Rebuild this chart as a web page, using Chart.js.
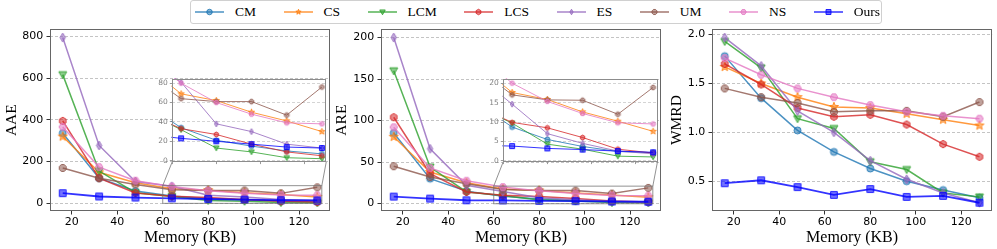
<!DOCTYPE html>
<html><head><meta charset="utf-8">
<script src="https://cdn.jsdelivr.net/npm/chart.js@4.4.1/dist/chart.umd.min.js"></script>
<style>
html,body{margin:0;padding:0;background:#fff;width:997px;height:249px;overflow:hidden;position:relative}
canvas.plot{position:absolute;left:0;top:0}
#legend{position:absolute;left:190px;top:0;width:686px;height:22px;padding-left:4px;border:1px solid #d0d0d0;border-radius:3px;background:#fff;display:flex;align-items:center;gap:27.5px;font-family:'Liberation Serif',serif;font-size:13.5px;color:#000;white-space:nowrap}
#legend .item{display:flex;align-items:center}
#legend .item canvas{display:block;margin-right:11px}
</style></head><body>
<canvas class="plot" id="c1" width="997" height="249"></canvas>
<canvas class="plot" id="c2" width="997" height="249"></canvas>
<canvas class="plot" id="c3" width="997" height="249"></canvas>
<canvas class="plot" id="i1" width="997" height="249"></canvas>
<canvas class="plot" id="i2" width="997" height="249"></canvas>
<div id="legend"></div>
<script>
// ---------------- data ----------------
const memory = [16, 32, 48, 64, 80, 96, 112, 128];
const methodNames = ['CM', 'CS', 'LCM', 'LCS', 'ES', 'UM', 'NS', 'Ours'];

const aaeCM   = [336, 120, 58, 34, 21, 15, 10, 7];
const aaeCS   = [320, 148, 98, 69, 62, 50, 41, 30];
const aaeLCM  = [617, 154, 50, 32, 13, 9, 3, 2];
const aaeLCS  = [395, 120, 49, 33, 27, 17, 9, 5];
const aaeES   = [795, 277, 104, 81, 38, 30, 17, 13];
const aaeUM   = [169, 120, 90, 64, 61, 61, 47, 76];
const aaeNS   = [366, 173, 108, 80, 60, 48, 39, 38];
const aaeOurs = [48, 32, 27, 23, 20, 17, 14, 13];

const areCM   = [85, 30, 15, 8.7, 5.5, 3.7, 2.4, 2.1];
const areCS   = [80.5, 38, 25, 17.6, 15.8, 12.6, 10.2, 7.6];
const areLCM  = [160, 44, 14, 9.7, 4.3, 3.0, 1.2, 1.0];
const areLCS  = [104, 36, 14, 9.9, 8.5, 6.0, 3.0, 2.0];
const areES   = [200, 66, 22, 14.6, 7.0, 4.5, 2.5, 1.8];
const areUM   = [45, 32, 24, 17, 15.7, 15.6, 12, 18.9];
const areNS   = [92, 43, 27.5, 20, 15.3, 12.2, 9.8, 9.5];
const areOurs = [8.4, 6, 4, 3.8, 3.2, 2.9, 2.5, 2.2];

const wmrdCM   = [1.78, 1.35, 1.02, 0.80, 0.63, 0.50, 0.41, 0.33];
const wmrdCS   = [1.67, 1.50, 1.36, 1.26, 1.25, 1.19, 1.13, 1.07];
const wmrdLCM  = [1.93, 1.66, 1.14, 1.04, 0.70, 0.62, 0.38, 0.34];
const wmrdLCS  = [1.70, 1.49, 1.25, 1.16, 1.18, 1.08, 0.88, 0.75];
const wmrdES   = [1.97, 1.68, 1.22, 1.00, 0.71, 0.52, 0.38, 0.28];
const wmrdUM   = [1.45, 1.36, 1.30, 1.21, 1.22, 1.22, 1.16, 1.31];
const wmrdNS   = [1.76, 1.59, 1.45, 1.36, 1.28, 1.21, 1.17, 1.14];
const wmrdOurs = [0.48, 0.51, 0.44, 0.36, 0.42, 0.34, 0.35, 0.28];

const xTickValues = [20, 40, 60, 80, 100, 120];
const aaeTickValues = [0, 200, 400, 600, 800];
const areTickValues = [0, 50, 100, 150, 200];
const wmrdTickValues = [0.5, 1.0, 1.5, 2.0];
const wmrdTickLabels = ['0.5', '1.0', '1.5', '2.0'];
const aaeInsetTickValues = [0, 20, 40, 60, 80];
const areInsetTickValues = [0, 5, 10, 15, 20];
const insetXTickValues = [60, 80, 100, 120];
const insetXRange = [60, 130];
const aaeInsetYRange = [-1, 84];
const areInsetYRange = [-0.2, 21];

// ---------------- styles ----------------
const colors = ['#1f77b4', '#ff7f0e', '#2ca02c', '#d62728', '#9467bd', '#8c564b', '#e377c2', '#0000ff'];
const shapes = ['o', '*', 'v', 'h', 'd', '8', 'H', 's'];
const mainSizes = [7, 9.5, 8, 7.5, 9, 7.5, 7.5, 7.5];
const insetSizes = [5, 6.5, 5.5, 5, 6, 5, 5, 5.5];

function rgba(hex, a) {
  const n = parseInt(hex.slice(1), 16);
  return `rgba(${(n >> 16) & 255},${(n >> 8) & 255},${n & 255},${a})`;
}
function polyPath(ctx, cx, cy, r, n, start) {
  for (let k = 0; k < n; k++) {
    const a = start + k * 2 * Math.PI / n;
    const px = cx + r * Math.cos(a), py = cy + r * Math.sin(a);
    if (k === 0) ctx.moveTo(px, py); else ctx.lineTo(px, py);
  }
  ctx.closePath();
}
function shapePath(ctx, shape, cx, cy, r) {
  ctx.beginPath();
  if (shape === 'o') ctx.arc(cx, cy, r, 0, Math.PI * 2);
  else if (shape === 's') ctx.rect(cx - r * 0.9, cy - r * 0.9, r * 1.8, r * 1.8);
  else if (shape === 'v') { ctx.moveTo(cx - r, cy - r * 0.75); ctx.lineTo(cx + r, cy - r * 0.75); ctx.lineTo(cx, cy + r); ctx.closePath(); }
  else if (shape === 'd') { ctx.moveTo(cx, cy - r); ctx.lineTo(cx + r * 0.6, cy); ctx.lineTo(cx, cy + r); ctx.lineTo(cx - r * 0.6, cy); ctx.closePath(); }
  else if (shape === '*') {
    for (let k = 0; k < 10; k++) {
      const a = -Math.PI / 2 + k * Math.PI / 5;
      const rr = k % 2 ? r * 0.42 : r;
      const px = cx + rr * Math.cos(a), py = cy + rr * Math.sin(a);
      if (k === 0) ctx.moveTo(px, py); else ctx.lineTo(px, py);
    }
    ctx.closePath();
  }
  else if (shape === 'h') polyPath(ctx, cx, cy, r, 6, -Math.PI / 2);
  else if (shape === 'H') polyPath(ctx, cx, cy, r, 6, 0);
  else if (shape === '8') polyPath(ctx, cx, cy, r, 8, Math.PI / 8);
  else if (shape === 'p') polyPath(ctx, cx, cy, r, 5, -Math.PI / 2);
}
function paintMarker(c, i, size, withLine) {
  const ctx = c.getContext('2d');
  const cx = c.width / 2, cy = c.height / 2;
  if (withLine) {
    ctx.strokeStyle = rgba(colors[i], 0.8);
    ctx.lineWidth = 1.5;
    ctx.beginPath(); ctx.moveTo(0, cy); ctx.lineTo(c.width, cy); ctx.stroke();
  }
  shapePath(ctx, shapes[i], cx, cy, size / 2);
  ctx.fillStyle = rgba(colors[i], 0.55);
  ctx.fill();
  ctx.strokeStyle = rgba(colors[i], 0.85);
  ctx.lineWidth = 1;
  ctx.stroke();
  return c;
}
function markerImage(i, size) {
  const c = document.createElement('canvas');
  c.width = c.height = Math.ceil(size + 4);
  return paintMarker(c, i, size, false);
}
const mainMarkers = colors.map((c, i) => markerImage(i, mainSizes[i]));
const insetMarkers = colors.map((c, i) => markerImage(i, insetSizes[i]));

Chart.defaults.font.family = "'DejaVu Sans', sans-serif";
Chart.defaults.color = '#000';

function padRange(arrays) {
  const all = [].concat(...arrays);
  const lo = Math.min(...all), hi = Math.max(...all);
  const m = (hi - lo) * 0.05;
  return [lo - m, hi + m];
}
const xRange = padRange([memory]);

function makeDatasets(valueArrays, markers, inset) {
  return valueArrays.map((vals, i) => ({
    label: methodNames[i],
    data: memory.map((m, j) => ({ x: m, y: vals[j] })),
    borderColor: rgba(colors[i], 0.8),
    backgroundColor: rgba(colors[i], 0.5),
    borderWidth: inset ? 1 : (i === 7 ? 1.8 : 1.5),
    pointStyle: markers[i],
    pointRadius: 3,
    pointHoverRadius: 3,
    tension: 0,
    fill: false,
    clip: inset ? 1 : 6,
    order: valueArrays.length - i
  }));
}

const framePlugin = {
  id: 'frame',
  beforeDraw(chart, args, o) {
    if (!o.fill) return;
    const { ctx, chartArea: c } = chart;
    ctx.save();
    ctx.fillStyle = o.fill;
    ctx.fillRect(c.left, c.top, c.right - c.left, c.bottom - c.top);
    ctx.restore();
  },
  afterDraw(chart, args, o) {
    const { ctx, chartArea: c } = chart;
    const l = Math.round(c.left) + 0.5, t = Math.round(c.top) + 0.5;
    const r = Math.round(c.right) - 0.5, b = Math.round(c.bottom) - 0.5;
    ctx.save();
    ctx.strokeStyle = o.color;
    ctx.lineWidth = 1;
    ctx.strokeRect(l, t, r - l, b - t);
    ctx.restore();
  }
};

const insetCharts = {};
const insetMarkPlugin = {
  id: 'insetMark',
  afterDatasetsDraw(chart, args, o) {
    if (!o.target) return;
    const ins = insetCharts[o.target];
    if (!ins) return;
    const xs = chart.scales.x, ys = chart.scales.y;
    const x0 = xs.getPixelForValue(insetXRange[0]), x1 = xs.getPixelForValue(insetXRange[1]);
    const yr = o.target === 'i1' ? aaeInsetYRange : areInsetYRange;
    const y0 = ys.getPixelForValue(yr[1]), y1 = ys.getPixelForValue(yr[0]);
    const ia = ins.chartArea;
    const ctx = chart.ctx;
    ctx.save();
    ctx.strokeStyle = 'rgba(110,110,110,0.75)';
    ctx.lineWidth = 1;
    ctx.strokeRect(x0, y0, x1 - x0, y1 - y0);
    ctx.beginPath();
    ctx.moveTo(x0, y0); ctx.lineTo(ia.left, ia.bottom);
    ctx.moveTo(x1, y0); ctx.lineTo(ia.right, ia.bottom);
    ctx.stroke();
    ctx.restore();
  }
};

function insetChart(id, values, box, yRange, yTicks) {
  insetCharts[id] = new Chart(document.getElementById(id), {
    type: 'line',
    data: { datasets: makeDatasets(values, insetMarkers, true) },
    options: {
      responsive: false, animation: false, devicePixelRatio: 1, events: [],
      layout: { padding: { left: box.left - 30, right: 997 - box.right, top: box.top, bottom: 249 - box.bottom - 10 } },
      scales: {
        x: {
          type: 'linear', min: insetXRange[0], max: insetXRange[1],
          afterBuildTicks: s => { s.ticks = insetXTickValues.map(v => ({ value: v })); },
          afterFit: s => { s.height = 10; },
          ticks: { callback: () => '', font: { size: 7 } },
          grid: { drawOnChartArea: false, drawTicks: true, tickLength: 2.5, tickColor: '#9a9a9a', tickWidth: 1, tickBorderDash: [] },
          border: { display: false }
        },
        y: {
          type: 'linear', min: yRange[0], max: yRange[1],
          afterBuildTicks: s => { s.ticks = yTicks.map(v => ({ value: v })); },
          afterFit: s => { s.width = 30; },
          ticks: { font: { size: 7.5 }, color: '#808080', padding: 2, callback: v => String(v) },
          grid: { color: '#d4d4d4', lineWidth: 1, drawTicks: true, tickLength: 2.5, tickColor: '#9a9a9a', tickWidth: 1, tickBorderDash: [], borderDash: [3, 2] },
          border: { display: false, dash: [3, 2] }
        }
      },
      plugins: { legend: { display: false }, tooltip: { enabled: false }, frame: { color: '#8c8c8c', fill: '#ffffff' } }
    },
    plugins: [framePlugin]
  });
}

function mainChart(id, cfg) {
  const yr = padRange(cfg.values);
  return new Chart(document.getElementById(id), {
    type: 'line',
    data: { datasets: makeDatasets(cfg.values, mainMarkers, false) },
    options: {
      responsive: false, animation: false, devicePixelRatio: 1, events: [],
      layout: { padding: { left: cfg.plot.left - 50, right: 997 - cfg.plot.right, top: cfg.plot.top, bottom: 0 } },
      scales: {
        x: {
          type: 'linear', min: xRange[0], max: xRange[1],
          afterBuildTicks: s => { s.ticks = xTickValues.map(v => ({ value: v })); },
          afterFit: s => { s.height = 249 - cfg.plot.bottom; },
          ticks: { font: { size: 11 }, color: '#000', padding: 1, maxRotation: 0, autoSkip: false, callback: v => String(v) },
          grid: { drawOnChartArea: false, drawTicks: true, tickLength: 3.5, tickColor: '#333', tickWidth: 1, tickBorderDash: [] },
          border: { display: false },
          title: { display: true, text: 'Memory (KB)', color: '#000', font: { family: "'Liberation Serif', serif", size: 16 }, padding: { top: 0, bottom: 2 } }
        },
        y: {
          type: 'linear', min: yr[0], max: yr[1],
          afterBuildTicks: s => { s.ticks = cfg.yTicks.map(v => ({ value: v })); },
          afterFit: s => { s.width = 50; },
          ticks: { font: { size: 11 }, color: '#000', padding: 3.2, callback: cfg.yLabel },
          grid: { color: '#c4c4c4', lineWidth: 1, drawTicks: true, tickLength: 3.5, tickColor: '#333', tickWidth: 1, tickBorderDash: [], borderDash: [3, 2] },
          border: { display: false, dash: [3, 2] },
          title: { display: true, text: cfg.yTitle, color: '#000', font: { family: "'Liberation Serif', serif", size: 15.5 }, padding: { top: cfg.titlePad, bottom: 0 } }
        }
      },
      plugins: { legend: { display: false }, tooltip: { enabled: false }, frame: { color: '#666666' }, insetMark: { target: cfg.inset || '' } }
    },
    plugins: [framePlugin, insetMarkPlugin]
  });
}

const aaeValues = [aaeCM, aaeCS, aaeLCM, aaeLCS, aaeES, aaeUM, aaeNS, aaeOurs];
const areValues = [areCM, areCS, areLCM, areLCS, areES, areUM, areNS, areOurs];
const wmrdValues = [wmrdCM, wmrdCS, wmrdLCM, wmrdLCS, wmrdES, wmrdUM, wmrdNS, wmrdOurs];

insetChart('i1', aaeValues, { left: 172.3, right: 326.3, top: 79.3, bottom: 161.6 }, aaeInsetYRange, aaeInsetTickValues);
insetChart('i2', areValues, { left: 503.3, right: 657.5, top: 79.3, bottom: 161.6 }, areInsetYRange, areInsetTickValues);

mainChart('c1', { values: aaeValues, plot: { left: 50, right: 330, top: 29.3, bottom: 211 }, yTicks: aaeTickValues, yLabel: v => String(v), yTitle: 'AAE', titlePad: 2.4, inset: 'i1' });
mainChart('c2', { values: areValues, plot: { left: 381, right: 661, top: 29.3, bottom: 211 }, yTicks: areTickValues, yLabel: v => String(v), yTitle: 'ARE', titlePad: 1.7, inset: 'i2' });
mainChart('c3', { values: wmrdValues, plot: { left: 712, right: 993, top: 29.3, bottom: 211 }, yTicks: wmrdTickValues, yLabel: (v, i) => wmrdTickLabels[i], yTitle: 'WMRD', titlePad: 5.7 });

// ---------------- legend (HTML, real text) ----------------
const legendEl = document.getElementById('legend');
methodNames.forEach((name, i) => {
  const item = document.createElement('div');
  item.className = 'item';
  const c = document.createElement('canvas');
  c.width = 29; c.height = 10;
  paintMarker(c, i, 5.5, true);
  const span = document.createElement('span');
  span.textContent = name;
  item.appendChild(c);
  item.appendChild(span);
  legendEl.appendChild(item);
});
</script>
</body></html>
